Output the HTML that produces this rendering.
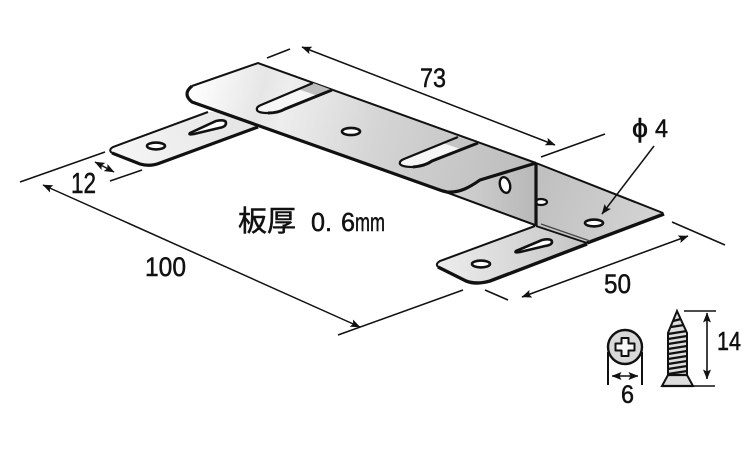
<!DOCTYPE html>
<html><head><meta charset="utf-8"><style>
html,body{margin:0;padding:0;background:#fff;width:750px;height:450px;overflow:hidden}
svg{display:block}
text{font-family:"Liberation Sans","Noto Sans CJK JP",sans-serif;fill:#111;stroke:#111;stroke-width:.5}
</style></head><body>
<svg width="750" height="450" viewBox="0 0 750 450" xmlns="http://www.w3.org/2000/svg">
<defs>
<linearGradient id="g1" gradientUnits="userSpaceOnUse" x1="190" y1="90" x2="530" y2="180">
<stop offset="0" stop-color="#fff"/><stop offset=".2" stop-color="#e6e6e6"/><stop offset=".27" stop-color="#eee"/><stop offset=".55" stop-color="#d4d4d4"/><stop offset="1" stop-color="#bcbcbc"/></linearGradient>
<linearGradient id="g2" gradientUnits="userSpaceOnUse" x1="110" y1="150" x2="250" y2="120">
<stop offset="0" stop-color="#f6f6f6"/><stop offset="1" stop-color="#e4e4e4"/></linearGradient>
<linearGradient id="g3" gradientUnits="userSpaceOnUse" x1="440" y1="260" x2="590" y2="240">
<stop offset="0" stop-color="#ececec"/><stop offset="1" stop-color="#c4c4c4"/></linearGradient>
<linearGradient id="g4" gradientUnits="userSpaceOnUse" x1="540" y1="180" x2="660" y2="220">
<stop offset="0" stop-color="#c0c0c0"/><stop offset="1" stop-color="#d4d4d4"/></linearGradient>
<linearGradient id="g5" gradientUnits="userSpaceOnUse" x1="447" y1="200" x2="536" y2="200">
<stop offset="0" stop-color="#d4d4d4"/><stop offset="1" stop-color="#b8b8b8"/></linearGradient>
<marker id="a" viewBox="0 0 10 8" refX="9.500" refY="4" markerWidth="10" markerHeight="8" markerUnits="userSpaceOnUse" orient="auto-start-reverse"><path d="M0 0L10 4L0 8L2 4Z" fill="#111"/></marker>
</defs>

<!-- left tab -->
<path d="M208 112L113 147Q108 150 112 153L140 164Q150 167 160 163L258 127L235 112Z" fill="url(#g2)"/>
<path d="M208 112L113 147Q108 150 112 153" fill="none" stroke="#111" stroke-width="2"/>
<path d="M112 153L140 164Q150 167 160 163L258 127" fill="none" stroke="#111" stroke-width="3.200"/>
<ellipse cx="156" cy="146" rx="9" ry="3.400" fill="#fff" stroke="#111" stroke-width="2.600"/>
<path d="M190 133L216 121Q226 119 226 123Q226 127 219 128L194 134Q188 135 190 133Z" fill="#fff" stroke="#111" stroke-width="2.600"/>

<!-- right plate -->
<path d="M536 163L663 213L587 243L536 225Z" fill="url(#g4)"/>
<path d="M536 163L663 213" fill="none" stroke="#111" stroke-width="2"/>
<path d="M664 214L587 243" fill="none" stroke="#111" stroke-width="3.400"/>
<ellipse cx="594" cy="223" rx="9" ry="3.400" fill="#fff" stroke="#111" stroke-width="2.600"/>
<ellipse cx="541" cy="202" rx="6" ry="3" fill="#fff" stroke="#111" stroke-width="2.200"/>

<!-- front face -->
<path d="M437 189L447 192C460 193 470 187 480 180L536 163L536 225Z" fill="url(#g5)"/>
<path d="M443 191L535 225" fill="none" stroke="#111" stroke-width="2"/>
<ellipse cx="505" cy="185" rx="5" ry="8" transform="rotate(-15 505 185)" fill="#fff" stroke="#111" stroke-width="2.400"/>

<!-- top plate -->
<path d="M258 63L536 163L480 180C470 187 460 193 447 192Q441 191 437 189L192 102Q182 94 192 86Z" fill="url(#g1)"/>
<path d="M192 86L258 63L536 163" fill="none" stroke="#111" stroke-width="2"/>
<path d="M192 86Q182 94 192 102L437 189Q442 191 447 192C460 193 470 187 480 180L536 163" fill="none" stroke="#111" stroke-width="3.200" stroke-linejoin="round"/>

<!-- slots -->
<path d="M313 83L332 90L285 109Q278 113 268 113Q258 113 257 110Q256 107 261 105Z" fill="#f6f6f6"/>
<path d="M313 83L332 90L318 96L298 89Z" fill="#bdbdbd"/>
<path d="M313 83L261 105Q256 107 257 110Q258 113 268 113" fill="none" stroke="#111" stroke-width="2.200"/>
<path d="M332 90L285 109Q278 113 268 113" fill="none" stroke="#111" stroke-width="3"/>
<path d="M458 137L478 143L432 161Q425 166 413 167Q402 167 400 164Q399 161 404 159Z" fill="#f6f6f6"/>
<path d="M458 137L478 143L463 150L443 143Z" fill="#c4c4c4"/>
<path d="M458 137L404 159Q399 161 400 164Q402 167 413 167" fill="none" stroke="#111" stroke-width="2.200"/>
<path d="M478 143L432 161Q425 166 413 167" fill="none" stroke="#111" stroke-width="3"/>
<ellipse cx="351" cy="131.500" rx="9" ry="3.600" fill="#fff" stroke="#111" stroke-width="2.600"/>

<!-- bottom tab -->
<path d="M535 226L440 261Q435 264 438 267L466 281Q476 285 490 281L587 243Z" fill="url(#g3)"/>
<path d="M535 226L440 261Q435 264 438 267" fill="none" stroke="#111" stroke-width="2"/>
<path d="M438 267L466 281Q476 285 490 281L587 244" fill="none" stroke="#111" stroke-width="3.400"/>
<path d="M536 226L587 243" fill="none" stroke="#111" stroke-width="1.800"/>
<path d="M541 224L590 241" fill="none" stroke="#444" stroke-width="1.200"/>
<ellipse cx="481" cy="264" rx="9" ry="3.400" fill="#fff" stroke="#111" stroke-width="2.600"/>
<path d="M516 251L542 240Q552 238 552 242Q552 245 545 246L520 252Q514 253 516 251Z" fill="#fff" stroke="#111" stroke-width="2.600"/>
<path d="M536 163V226" fill="none" stroke="#111" stroke-width="3.200"/>

<!-- dimension lines -->
<g fill="none" stroke="#111" stroke-width="1.500">
<path d="M267 58L290 49"/>
<path d="M302 47L555 145" marker-start="url(#a)" marker-end="url(#a)"/>
<path d="M541 157L605 134"/>
<path d="M20 182L105 152"/>
<path d="M43 185L360 327" marker-start="url(#a)" marker-end="url(#a)"/>
<path d="M338 335L463 290"/>
<path d="M95 162L114 172" marker-start="url(#a)" marker-end="url(#a)"/>
<path d="M110 181L142 170"/>
<path d="M522 297L688 236" marker-start="url(#a)" marker-end="url(#a)"/>
<path d="M485 290L508 300"/>
<path d="M672 222L725 245"/>
<path d="M654 146L602 214" marker-end="url(#a)"/>
</g>

<!-- screw head -->
<circle cx="625" cy="347" r="17" fill="#d8d8d8" stroke="#111" stroke-width="2.400"/>
<path d="M621.500 338h7v5.500h6v7h-6v5.500h-7v-5.500h-6v-7h6z" fill="#f8f8f8" stroke="#111" stroke-width="2" stroke-linejoin="round"/>
<g fill="none" stroke="#111" stroke-width="1.600">
<path d="M608 352V385M642 352V385" stroke-width="2"/>
<path d="M612 376H638" marker-start="url(#a)" marker-end="url(#a)"/>
</g>

<!-- screw side -->
<path d="M677 311L687 333V375L693 386H662L668 375V333Z" fill="#ddd" stroke="#111" stroke-width="2"/>
<g stroke="#111" stroke-width="2.200" fill="none">
<path d="M673 321L681 319M671 327L684 325M668 334L687 331M668 339L687 336M668 344L687 341M668 349L687 346M668 354L687 351M668 359L687 356M668 364L687 361M668 369L687 366M668 374L687 371"/>
<path d="M668 375H687M662 386H693"/>
</g>
<g fill="none" stroke="#111" stroke-width="1.600">
<path d="M684 311H716M662 386H715"/>
<path d="M707 313V379" marker-start="url(#a)" marker-end="url(#a)"/>
</g>

<!-- labels -->
<text x="420" y="87" font-size="27" textLength="26" lengthAdjust="spacingAndGlyphs">73</text>
<text x="145" y="276" font-size="27" textLength="41" lengthAdjust="spacingAndGlyphs">100</text>
<text x="71" y="193" font-size="29" textLength="25" lengthAdjust="spacingAndGlyphs">12</text>
<text x="604" y="293" font-size="27" textLength="27" lengthAdjust="spacingAndGlyphs">50</text>
<text x="632" y="137" font-size="26" textLength="16" lengthAdjust="spacingAndGlyphs">ϕ</text>
<text x="655" y="137" font-size="25" textLength="13" lengthAdjust="spacingAndGlyphs">4</text>
<text x="717" y="350" font-size="26" textLength="24" lengthAdjust="spacingAndGlyphs">14</text>
<text x="621" y="403" font-size="25" textLength="13" lengthAdjust="spacingAndGlyphs">6</text>
<text x="238" y="231" font-size="29" textLength="58" lengthAdjust="spacingAndGlyphs">板厚</text>
<text x="311" y="231" font-size="26" textLength="21" lengthAdjust="spacingAndGlyphs">0.</text>
<text x="341" y="231" font-size="26" textLength="14" lengthAdjust="spacingAndGlyphs">6</text>
<text x="355" y="231" font-size="26" textLength="30" lengthAdjust="spacingAndGlyphs">mm</text>
</svg>
</body></html>
